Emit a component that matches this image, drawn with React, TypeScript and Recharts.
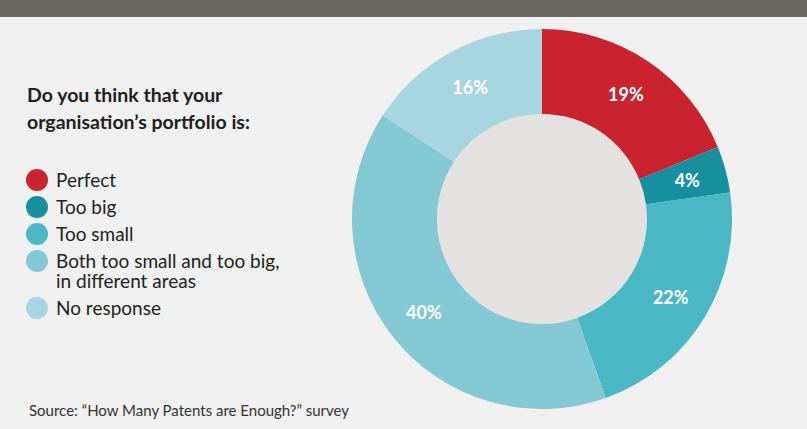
import React from 'react';
import { PieChart, Pie, Cell } from 'recharts';

// survey answers (percent)
const categories = ['Perfect', 'Too big', 'Too small', 'Both too small and too big, in different areas', 'No response'];
const values = [19, 4, 22, 40, 16];
const colors = ['#c8232f', '#168f9e', '#4ab8c4', '#83c8d2', '#a7d6e0'];

const data = categories.map((name, i) => ({ name, value: values[i], color: colors[i] }));
const hole = [{ name: 'hole', value: 1 }];

const FONT = 'Lato, "Noto Sans", sans-serif';
const RADIAN = Math.PI / 180;

const renderLabel = (props: any) => {
  const { cx, cy, midAngle, innerRadius, outerRadius, value } = props;
  const r = (innerRadius + outerRadius) / 2 + 3;
  const x = cx + r * Math.cos(-midAngle * RADIAN);
  const y = cy + r * Math.sin(-midAngle * RADIAN);
  return (
    <text x={x} y={y} fill="#fff" textAnchor="middle" dominantBaseline="central"
      fontFamily={FONT} fontWeight={700} fontSize={18}>
      {`${value}%`}
    </text>
  );
};

export default function App() {
  return (
    <div style={{ position: 'absolute', left: 0, top: 0, width: 807, height: 429, background: '#f0f0f0', overflow: 'hidden' }}>
      <div style={{ position: 'absolute', left: 0, top: 0, width: 807, height: 17, background: '#67675f' }} />
      <div style={{ position: 'absolute', left: 27, top: 81, fontFamily: FONT, fontWeight: 700, fontSize: 19.5, lineHeight: '27px', color: '#231f20' }}>
        Do you think that your<br />organisation’s portfolio is:
      </div>
      <div style={{ position: 'absolute', left: 26, top: 170, fontFamily: FONT, fontSize: 19, color: '#231f20' }}>
        {data.map((d, i) => (
          <div key={i} style={{ display: 'flex', alignItems: 'flex-start', marginBottom: 7, lineHeight: '20px' }}>
            <span style={{ width: 22, height: 22, borderRadius: 11, background: d.color, flex: 'none', marginRight: 8, marginTop: -1, marginBottom: -2 }} />
            <span style={{ width: 236 }}>{d.name}</span>
          </div>
        ))}
      </div>
      <div style={{ position: 'absolute', left: 29, top: 401, fontFamily: FONT, fontSize: 15, color: '#333' }}>
        Source: “How Many Patents are Enough?” survey
      </div>
      <div style={{ position: 'absolute', left: 0, top: 0 }}>
        <PieChart width={807} height={429} margin={{ top: 0, right: 0, bottom: 0, left: 0 }}>
          <Pie data={hole} dataKey="value" nameKey="name" cx={542} cy={219} outerRadius={105} innerRadius={0}
            fill="#e3e2e0" stroke="none" legendType="none" isAnimationActive={false} />
          <Pie data={data} dataKey="value" nameKey="name" cx={542} cy={219} innerRadius={105} outerRadius={190}
            startAngle={90} endAngle={-270} stroke="none" labelLine={false} label={renderLabel}
            isAnimationActive={false}>
            {data.map((entry, index) => (
              <Cell key={`cell-${index}`} fill={entry.color} />
            ))}
          </Pie>
        </PieChart>
      </div>
    </div>
  );
}
